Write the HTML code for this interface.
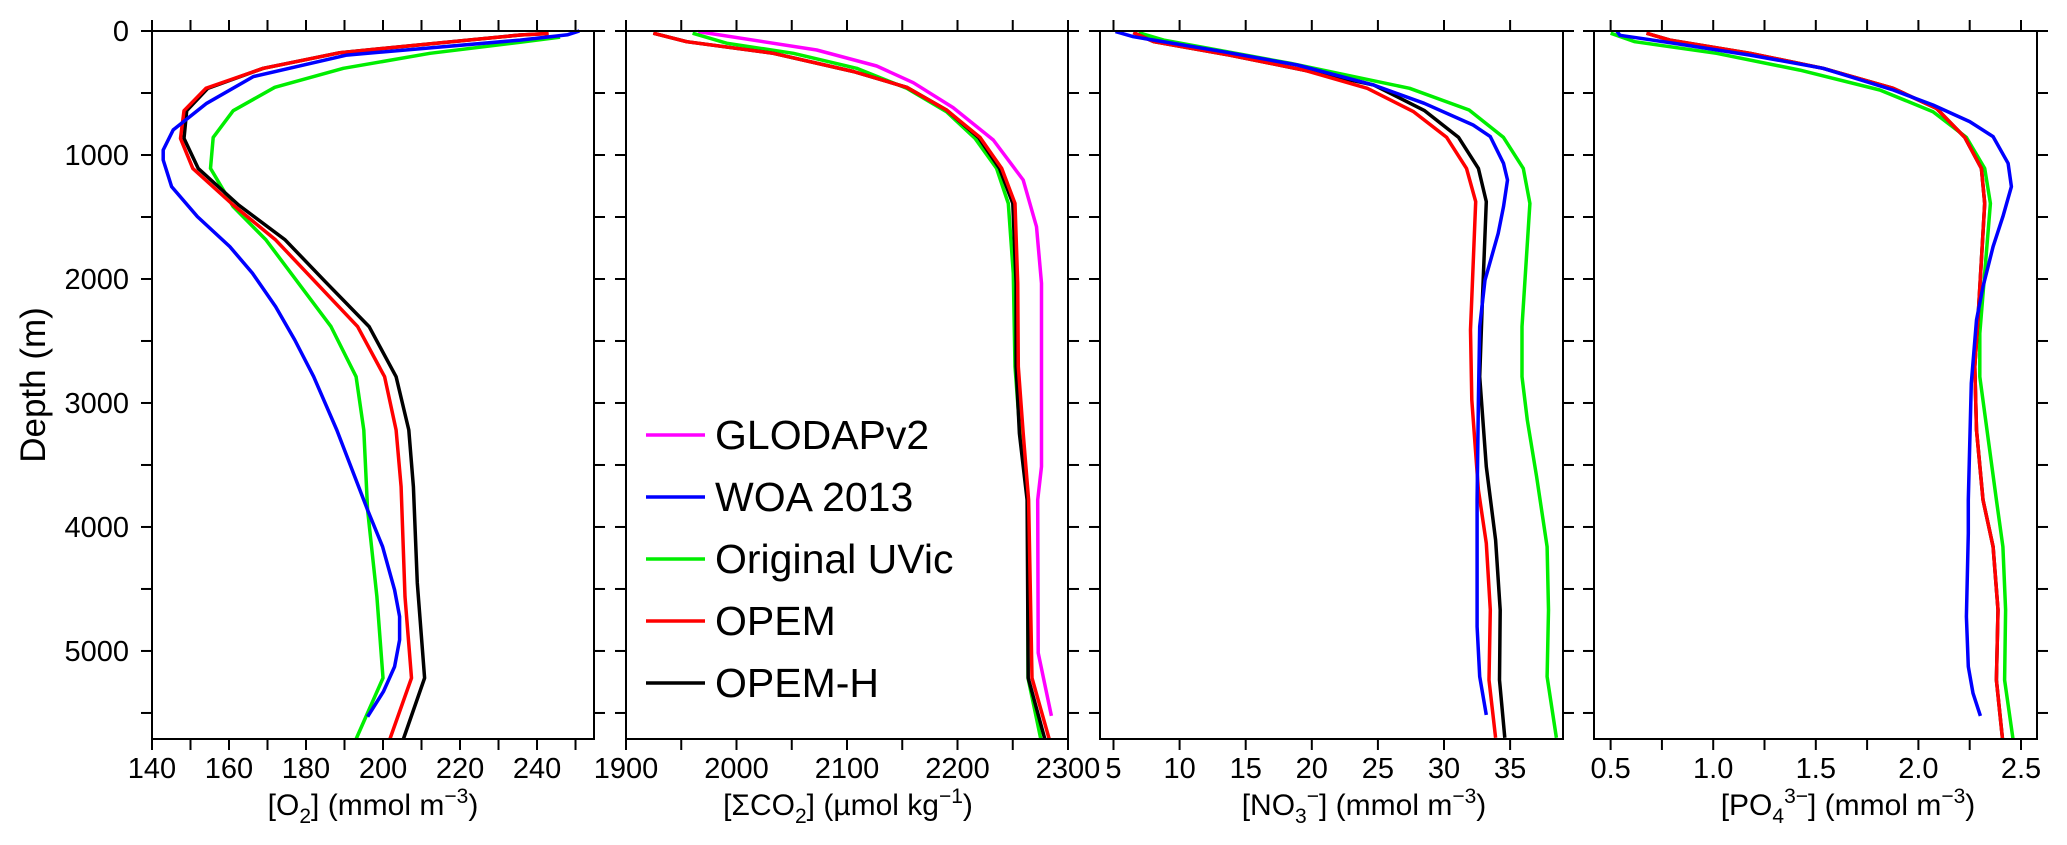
<!DOCTYPE html>
<html><head><meta charset="utf-8"><style>
html,body{margin:0;padding:0;background:#fff;}
svg{display:block;font-family:"Liberation Sans",Arial,sans-serif;}
</style></head><body>
<svg id="chart" width="2067" height="845" viewBox="0 0 2067 845" xmlns="http://www.w3.org/2000/svg"></svg>
<script>
// ---- data (depths in m, values in units of each panel) ----
const o2_blue_d = [0,30,73,194,368,583,798,960,1040,1255,1497,1739,1954,2223,2492,2788,3218,3863,4159,4508,4723,4911,5126,5328,5530];
const o2_blue_v = [251,248,235.6,190.6,166.3,154.2,145.5,142.9,142.9,145.1,151.8,160.2,166.1,172.1,177.1,182,188,196,199.9,203,204.3,204.3,203,200.1,196];
const o2_green_d = [50,91,180,301,454,643,858,1108,1417,1685,2384,2788,3218,3863,4562,5218,5710];
const o2_green_v = [246,235.6,212.2,189.7,171.9,161.1,155.9,155.2,161.1,169.6,186.5,193,195,196,198.4,200,193];
const o2_red_d = [20,32,175,301,462,643,866,1108,1403,1685,2384,2788,3218,3675,4562,5218,5710];
const o2_red_v = [243,235.6,188.8,168.9,154,148.3,147.4,150.6,161.1,172.1,193.4,200.4,203.4,204.7,205.7,207.4,201.8];
const o2_black_d = [20,32,175,301,462,643,866,1108,1403,1685,2022,2384,2788,3218,3675,4452,5218,5710];
const o2_black_v = [243,235.6,188.8,168.9,154.5,149,148.3,152,162.5,174.6,185,196.4,203.4,206.7,207.9,208.9,210.8,205.3];

const co2_mag_d = [5,153,282,417,618,879,1202,1578,2035,3513,3782,5016,5524];
const co2_mag_v = [1965.4,2072.6,2126.9,2160,2196,2232.4,2259.5,2271.5,2276,2276,2272.6,2273,2285];
const co2_green_d = [18,98,180,301,462,651,866,1108,1390,1955,2707,3245,3782,5218,5710];
const co2_green_v = [1960.3,1991,2051.4,2108.7,2154,2190,2215.8,2235.4,2246,2250.5,2252,2256.6,2263.4,2263.8,2275.4];
const co2_red_d = [18,86,180,327,454,637,858,1108,1390,2035,2707,3245,3782,5218,5710];
const co2_red_v = [1924.7,1954.9,2033.3,2105.7,2154,2190,2220.4,2240,2252,2254.5,2255,2259.5,2264.3,2267.4,2283];
const co2_black_d = [18,86,180,327,454,637,858,1108,1390,2035,2707,3245,3782,5218,5710];
const co2_black_v = [1924.7,1954.9,2033.3,2105.7,2154,2190,2219,2238,2250,2253,2253,2256,2263,2264,2279];

const no3_blue_d = [5,46,167,274,436,583,758,852,1067,1202,1417,1632,2009,2384,2976,3782,4804,5207,5516];
const no3_blue_v = [5.15,6.5,13.3,18.9,24.7,28.5,32.2,33.5,34.5,34.8,34.5,34.1,33.1,32.7,32.6,32.5,32.5,32.7,33.2];
const no3_green_d = [13,73,261,462,637,858,1108,1390,2384,2788,3137,3594,4159,4670,5207,5700];
const no3_green_v = [6.9,8.8,18.4,27.4,31.9,34.5,36.0,36.5,35.9,35.9,36.3,37.0,37.8,37.9,37.8,38.5];
const no3_red_d = [13,86,194,315,462,651,858,1108,1376,2411,2976,3702,4132,4670,5234,5700];
const no3_red_v = [6.5,8.05,13.8,19.4,24.2,27.7,30.2,31.7,32.4,32.0,32.1,32.6,33.2,33.5,33.4,33.9];
const no3_black_d = [13,86,194,315,436,640,858,1108,1376,2170,2788,3513,4105,4670,5234,5700];
const no3_black_v = [6.5,8.05,13.8,19.4,24.7,28.5,31.1,32.6,33.2,32.9,32.7,33.2,33.9,34.25,34.2,34.6];

const po4_blue_d = [0,35,102,194,301,476,597,731,852,1067,1255,1497,1739,2062,2331,2841,3782,4052,4723,5126,5341,5524];
const po4_blue_v = [0.53,0.545,0.82,1.18,1.535,1.877,2.071,2.25,2.364,2.437,2.453,2.412,2.364,2.315,2.283,2.258,2.243,2.243,2.234,2.243,2.266,2.302];
const po4_green_d = [18,86,180,315,476,651,858,1108,1390,2438,2788,3782,4159,4669,5234,5710];
const po4_green_v = [0.5,0.618,1.016,1.422,1.812,2.071,2.234,2.323,2.351,2.299,2.299,2.38,2.412,2.425,2.42,2.461];
const po4_red_d = [18,73,180,301,462,624,858,1108,1390,2331,2707,3218,3782,4159,4669,5234,5710];
const po4_red_v = [0.675,0.789,1.18,1.535,1.877,2.088,2.226,2.307,2.323,2.29,2.275,2.283,2.315,2.364,2.388,2.38,2.41];
const po4_black_d = po4_red_d;
const po4_black_v = po4_red_v;

const legendLabels = ["GLODAPv2","WOA 2013","Original UVic","OPEM","OPEM-H"];
const depthTicks = [0,1000,2000,3000,4000,5000];

const NS="http://www.w3.org/2000/svg";
const svg=document.getElementById('chart');
const TOP=31, BOT=739, DMAX=5710;
function yD(d){return TOP+(d/DMAX)*(BOT-TOP);}
function mk(tag,attrs,parent){const e=document.createElementNS(NS,tag);for(const k in attrs)e.setAttribute(k,attrs[k]);(parent||svg).appendChild(e);return e;}

const panels=[
 {key:'o2',x0:152,x1:594,vmin:140,vmax:254.8,tickStep:10,labels:[140,160,180,200,220,240],fmt:v=>String(v),titleX:373,
  series:[['green',o2_green_d,o2_green_v],['black',o2_black_d,o2_black_v],['red',o2_red_d,o2_red_v],['blue',o2_blue_d,o2_blue_v]]},
 {key:'co2',x0:626,x1:1068,vmin:1900,vmax:2300,tickStep:50,labels:[1900,2000,2100,2200,2300],fmt:v=>String(v),titleX:848,
  series:[['#ff00ff',co2_mag_d,co2_mag_v],['#00ee00',co2_green_d,co2_green_v],['black',co2_black_d,co2_black_v],['red',co2_red_d,co2_red_v]]},
 {key:'no3',x0:1100,x1:1563,vmin:3.98,vmax:39,tickStep:5,labels:[5,10,15,20,25,30,35],fmt:v=>String(v),titleX:1364,tickStart:5,
  series:[['#00ee00',no3_green_d,no3_green_v],['black',no3_black_d,no3_black_v],['red',no3_red_d,no3_red_v],['blue',no3_blue_d,no3_blue_v]]},
 {key:'po4',x0:1594,x1:2037,vmin:0.419,vmax:2.578,tickStep:0.25,labels:[0.5,1.0,1.5,2.0,2.5],fmt:v=>v.toFixed(1),titleX:1848,tickStart:0.5,
  series:[['#00ee00',po4_green_d,po4_green_v],['black',po4_black_d,po4_black_v],['red',po4_red_d,po4_red_v],['blue',po4_blue_d,po4_blue_v]]}
];
const colorMap={green:'#00ee00',blue:'#0000ff',red:'#ff0000',black:'#000000'};

panels.forEach(p=>{
  const xV=v=>p.x0+(v-p.vmin)/(p.vmax-p.vmin)*(p.x1-p.x0);
  const g=mk('g',{});
  
  
  p.series.forEach(([c,ds,vs])=>{
    const pts=ds.map((d,i)=>xV(vs[i]).toFixed(1)+','+yD(d).toFixed(1)).join(' ');
    const pl=mk('polyline',{points:pts,fill:'none',stroke:colorMap[c]||c,'stroke-width':3.5,'stroke-linejoin':'round'},g);
    
    
  });
  const fr=mk('rect',{x:p.x0,y:TOP,width:p.x1-p.x0,height:BOT-TOP,fill:'none',stroke:'#000','stroke-width':2},g);
  
  
  const start=p.tickStart!==undefined?p.tickStart:p.vmin;
  for(let v=start; v<=p.vmax+1e-9; v+=p.tickStep){
    const x=xV(v);
    mk('line',{x1:x,y1:TOP,x2:x,y2:TOP-11,stroke:'#000','stroke-width':2},g);
    mk('line',{x1:x,y1:BOT,x2:x,y2:BOT+11,stroke:'#000','stroke-width':2},g);
  }
  p.labels.forEach(v=>{
    const t=mk('text',{x:xV(v),y:778,'font-size':29,'text-anchor':'middle',fill:'#000'},g);
    t.textContent=p.fmt(v);
    
    
  });
  for(let d=0; d<=DMAX; d+=500){
    const y=yD(d);
    mk('line',{x1:p.x0,y1:y,x2:p.x0-11,y2:y,stroke:'#000','stroke-width':2},g);
    mk('line',{x1:p.x1,y1:y,x2:p.x1+11,y2:y,stroke:'#000','stroke-width':2},g);
  }
});

depthTicks.forEach(d=>{
  const t=mk('text',{x:129,y:yD(d)+10,'font-size':29,'text-anchor':'end',fill:'#000'});
  t.textContent=String(d);
  
  
});
const yt=mk('text',{x:0,y:0,'font-size':35,'text-anchor':'middle',fill:'#000',transform:'translate(45,385) rotate(-90)'});
yt.textContent='Depth (m)';



const titles=[
 ['o2-x-axis-title',373,'[O<tspan font-size="21" dy="8">2</tspan><tspan dy="-8">] (mmol m</tspan><tspan font-size="21" dy="-12">−3</tspan><tspan dy="12">)</tspan>'],
 ['co2-x-axis-title',848,'[ΣCO<tspan font-size="21" dy="8">2</tspan><tspan dy="-8">] (µmol kg</tspan><tspan font-size="21" dy="-12">−1</tspan><tspan dy="12">)</tspan>'],
 ['no3-x-axis-title',1364,'[NO<tspan font-size="21" dy="8">3</tspan><tspan font-size="21" dy="-20">−</tspan><tspan dy="12">] (mmol m</tspan><tspan font-size="21" dy="-12">−3</tspan><tspan dy="12">)</tspan>'],
 ['po4-x-axis-title',1848,'[PO<tspan font-size="21" dy="8">4</tspan><tspan font-size="21" dy="-20">3−</tspan><tspan dy="12">] (mmol m</tspan><tspan font-size="21" dy="-12">−3</tspan><tspan dy="12">)</tspan>']
];
titles.forEach(([n,x,html])=>{
  const t=mk('text',{x:x,y:815,'font-size':30,'text-anchor':'middle',fill:'#000'});
  t.innerHTML=html;
  
  
});

const legendColors=['#ff00ff','#0000ff','#00ee00','#ff0000','#000000'];
const lg=mk('g',{});


legendLabels.forEach((lab,i)=>{
  const y=435+i*62;
  const ln=mk('line',{x1:646,y1:y,x2:705,y2:y,stroke:legendColors[i],'stroke-width':3.5},lg);
  
  
  const t=mk('text',{x:715,y:y+14,'font-size':41,fill:'#000'},lg);
  t.textContent=lab;
  
  
});
</script>
</body></html>
